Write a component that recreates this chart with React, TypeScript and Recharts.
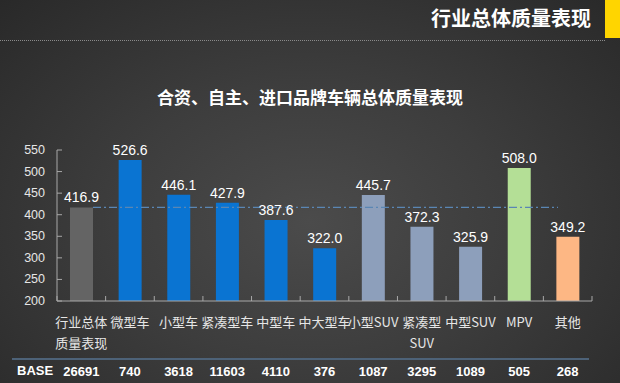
import { Bar, BarChart, Cell, LabelList, ReferenceLine, XAxis, YAxis } from "recharts";

const categories = [
  "行业总体质量表现",
  "微型车",
  "小型车",
  "紧凑型车",
  "中型车",
  "中大型车",
  "小型SUV",
  "紧凑型SUV",
  "中型SUV",
  "MPV",
  "其他",
];
const tickLabels = [
  ["行业总体", "质量表现"],
  ["微型车"],
  ["小型车"],
  ["紧凑型车"],
  ["中型车"],
  ["中大型车"],
  ["小型SUV"],
  ["紧凑型", "SUV"],
  ["中型SUV"],
  ["MPV"],
  ["其他"],
];
const scores = [416.9, 526.6, 446.1, 427.9, 387.6, 322.0, 445.7, 372.3, 325.9, 508.0, 349.2];
const baseCounts = [26691, 740, 3618, 11603, 4110, 376, 1087, 3295, 1089, 505, 268];
const yTicks = [200, 250, 300, 350, 400, 450, 500, 550];
const industryAverage = 416.9;

const barColors = [
  "#646464",
  "#0a74d2",
  "#0a74d2",
  "#0a74d2",
  "#0a74d2",
  "#0a74d2",
  "#8d9fbb",
  "#8d9fbb",
  "#8d9fbb",
  "#b4df96",
  "#fdb784",
];

const data = categories.map((name, i) => ({ name, score: scores[i], base: baseCounts[i] }));

const FONT = "'Liberation Sans', 'Noto Sans CJK SC', sans-serif";
const CJK = "'Noto Sans CJK SC', 'Liberation Sans', sans-serif";
const PLOT_LEFT = 57;
const PLOT_RIGHT = 592;
const BAND = (PLOT_RIGHT - PLOT_LEFT) / categories.length;

function CategoryTick(props: any) {
  const { x, y, index } = props;
  const lines = tickLabels[index] ?? [props.payload.value];
  const isLast = index === categories.length - 1;
  return (
    <g>
      <line x1={x - BAND / 2} x2={x - BAND / 2} y1={y - 5} y2={y} stroke="#a8a8a8" />
      {isLast && <line x1={x + BAND / 2} x2={x + BAND / 2} y1={y - 5} y2={y} stroke="#a8a8a8" />}
      {lines.map((line: string, i: number) => (
        <text
          key={line}
          x={x}
          y={y + 20 + i * 21}
          textAnchor="middle"
          dominantBaseline="central"
          fill="#e6e6e6"
          fontSize={13}
          fontFamily={CJK}
        >
          {line}
        </text>
      ))}
      <text
        x={x}
        y={y + 70}
        textAnchor="middle"
        dominantBaseline="central"
        fill="#ffffff"
        fontSize={13}
        fontWeight="bold"
        fontFamily={FONT}
      >
        {baseCounts[index]}
      </text>
    </g>
  );
}

function ValueTick(props: any) {
  const { x, y, payload } = props;
  return (
    <g>
      <line x1={x} x2={x + 5} y1={y} y2={y} stroke="#a8a8a8" />
      <text
        x={x - 12}
        y={y}
        textAnchor="end"
        dominantBaseline="central"
        fill="#e6e6e6"
        fontSize={12.5}
        fontFamily={FONT}
      >
        {payload.value}
      </text>
    </g>
  );
}

function AverageLine(props: any) {
  const { x1, x2, y1 } = props;
  return (
    <line
      x1={x1 + 36}
      x2={x2 - 34}
      y1={y1}
      y2={y1}
      stroke="#5a86b4"
      strokeWidth={1.2}
      strokeDasharray="8 3 2 3"
    />
  );
}

export default function App() {
  return (
    <div
      style={{
        position: "absolute",
        left: 0,
        top: 0,
        width: 620,
        height: 383,
        overflow: "hidden",
        background: "radial-gradient(ellipse at 50% 58%, #4b4b4b 0%, #3d3d3d 45%, #292929 100%)",
        fontFamily: FONT,
      }}
    >
      <div
        style={{
          position: "absolute",
          left: 0,
          top: 40,
          width: 605,
          borderTop: "1px dotted #8a8a8a",
        }}
      />
      <div style={{ position: "absolute", left: 605, top: 0, width: 15, height: 38, background: "#ffd500" }} />
      <div
        style={{
          position: "absolute",
          right: 29,
          top: 5,
          color: "#ffffff",
          fontSize: 20,
          fontWeight: "bold",
          fontFamily: CJK,
          lineHeight: "26px",
        }}
      >
        行业总体质量表现
      </div>
      <div
        style={{
          position: "absolute",
          left: 0,
          top: 85,
          width: 620,
          textAlign: "center",
          color: "#ffffff",
          fontSize: 17,
          fontWeight: "bold",
          fontFamily: CJK,
          lineHeight: "24px",
        }}
      >
        合资、自主、进口品牌车辆总体质量表现
      </div>

      <BarChart
        width={620}
        height={383}
        data={data}
        margin={{ top: 150, right: 620 - PLOT_RIGHT, bottom: 0, left: 17 }}
        style={{ position: "absolute", left: 0, top: 0 }}
      >
        <XAxis
          dataKey="name"
          height={82}
          interval={0}
          tickLine={false}
          tickSize={0}
          tickMargin={0}
          axisLine={{ stroke: "#a8a8a8" }}
          tick={<CategoryTick />}
        />
        <YAxis
          width={40}
          domain={[200, 550]}
          ticks={yTicks}
          interval={0}
          tickLine={false}
          tickSize={0}
          tickMargin={0}
          axisLine={{ stroke: "#a8a8a8" }}
          tick={<ValueTick />}
        />
        <ReferenceLine y={industryAverage} shape={<AverageLine />} />
        <Bar dataKey="score" barSize={23} isAnimationActive={false}>
          {data.map((d, i) => (
            <Cell key={d.name} fill={barColors[i]} />
          ))}
          <LabelList
            dataKey="score"
            position="top"
            offset={5}
            fill="#ffffff"
            fontSize={14}
            fontFamily={FONT}
            formatter={(v: any) => Number(v).toFixed(1)}
          />
        </Bar>
      </BarChart>

      <div
        style={{
          position: "absolute",
          left: 12,
          top: 358,
          width: 577,
          borderTop: "2px solid #4d6278",
        }}
      />
      <div
        style={{
          position: "absolute",
          left: 17,
          top: 363,
          color: "#ffffff",
          fontSize: 13,
          fontWeight: "bold",
          lineHeight: "16px",
        }}
      >
        BASE
      </div>
    </div>
  );
}
